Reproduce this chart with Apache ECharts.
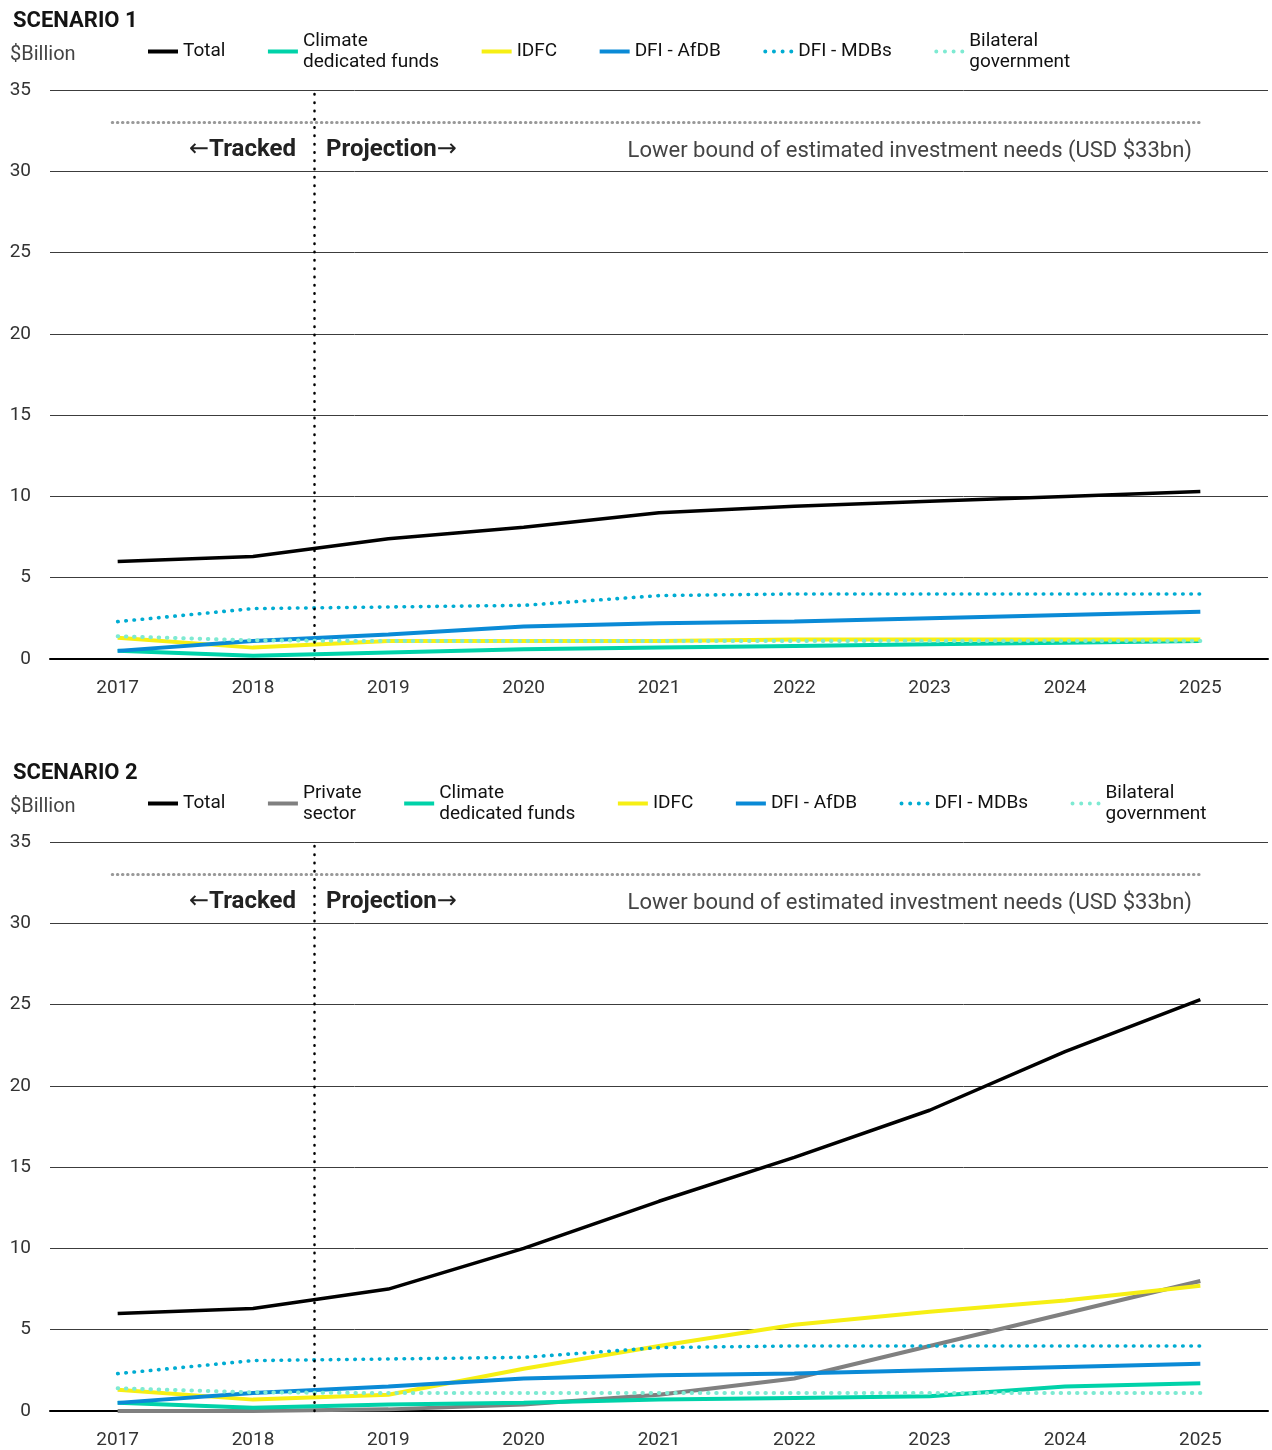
<!DOCTYPE html>
<html>
<head>
<meta charset="utf-8">
<title>Climate finance scenarios</title>
<script src="https://cdn.jsdelivr.net/npm/echarts@6/dist/echarts.min.js"></script>
<style>
  html, body { margin: 0; padding: 0; background: #fff; }
  #c1 { position: absolute; left: 0; top: 0; width: 1272px; height: 752px; }
  #c2 { position: absolute; left: 0; top: 752px; width: 1272px; height: 698px; }
</style>
</head>
<body>
<div id="c1"></div>
<div id="c2"></div>
<script>
// Years on the x axis
const years = ['2017', '2018', '2019', '2020', '2021', '2022', '2023', '2024', '2025'];
const yTicks = [0, 5, 10, 15, 20, 25, 30, 35];

// Investment needs threshold (USD bn) and tracked/projection split (category index)
const needsLowerBound = 33;
const splitAt = 1.45;

// Scenario 1 ($ billion)
const s1Total     = [6.0, 6.3, 7.4, 8.1, 9.0, 9.4, 9.7, 10.0, 10.3];
const s1Climate   = [0.5, 0.2, 0.4, 0.6, 0.7, 0.8, 0.9, 1.0, 1.1];
const s1Idfc      = [1.3, 0.7, 1.1, 1.1, 1.1, 1.2, 1.2, 1.2, 1.2];
const s1Afdb      = [0.5, 1.1, 1.5, 2.0, 2.2, 2.3, 2.5, 2.7, 2.9];
const s1Mdbs      = [2.3, 3.1, 3.2, 3.3, 3.9, 4.0, 4.0, 4.0, 4.0];
const s1Bilateral = [1.4, 1.15, 1.1, 1.1, 1.1, 1.1, 1.1, 1.1, 1.1];

// Scenario 2 ($ billion)
const s2Total     = [6.0, 6.3, 7.5, 10.0, 12.9, 15.6, 18.5, 22.1, 25.3];
const s2Private   = [0, 0, 0.1, 0.4, 1.0, 2.0, 4.0, 6.0, 8.0];
const s2Climate   = [0.5, 0.2, 0.4, 0.5, 0.7, 0.8, 0.9, 1.5, 1.7];
const s2Idfc      = [1.3, 0.7, 1.0, 2.6, 4.0, 5.3, 6.1, 6.8, 7.7];
const s2Afdb      = [0.5, 1.1, 1.5, 2.0, 2.2, 2.3, 2.5, 2.7, 2.9];
const s2Mdbs      = [2.3, 3.1, 3.2, 3.3, 3.9, 4.0, 4.0, 4.0, 4.0];
const s2Bilateral = [1.4, 1.15, 1.1, 1.1, 1.1, 1.1, 1.1, 1.1, 1.1];

const FONT = 'Roboto, "Noto Sans", sans-serif';

// Visual style per funding source
const styles = {
  'Total':                   { color: '#000000', width: 3.5 },
  'Private sector':          { color: '#808080', width: 4 },
  'Climate dedicated funds': { color: '#00d2a9', width: 4 },
  'IDFC':                    { color: '#f6ef14', width: 4 },
  'DFI - AfDB':              { color: '#0a8ad6', width: 4 },
  'DFI - MDBs':              { color: '#00acd2', width: 3.6, dots: true },
  'Bilateral government':    { color: '#7eead2', width: 4, dots: true }
};

// Legend labels that wrap onto two lines
const legendLabels = {
  'Private sector': 'Private\nsector',
  'Climate dedicated funds': 'Climate\ndedicated funds',
  'Bilateral government': 'Bilateral\ngovernment'
};

// Legend keys: a short bar for solid lines, four dots for dotted lines
const ICON_BAR = 'path://M0,0H30V4H0Z';
const ICON_DOTS = 'path://M0,2a2,2 0 1,0 4,0a2,2 0 1,0 -4,0Z' +
  'M8.67,2a2,2 0 1,0 4,0a2,2 0 1,0 -4,0Z' +
  'M17.33,2a2,2 0 1,0 4,0a2,2 0 1,0 -4,0Z' +
  'M26,2a2,2 0 1,0 4,0a2,2 0 1,0 -4,0Z';

function lineSeries(name, values) {
  const st = styles[name];
  return {
    name: name,
    type: 'line',
    data: values,
    symbol: 'none',
    silent: true,
    z: 3,
    lineStyle: {
      color: st.color,
      width: st.width,
      type: st.dots ? [0.5, 7.7] : 'solid',
      cap: st.dots ? 'round' : 'butt'
    },
    itemStyle: { color: st.color }
  };
}

function legendItem(name) {
  const item = { name: name, icon: styles[name].dots ? ICON_DOTS : ICON_BAR };
  if (legendLabels[name]) item.textStyle = { padding: [21, 0, 0, 0] };
  return item;
}

const arrowRich = { a: { fontFamily: 'DejaVu Sans', fontSize: 24, fontWeight: 'normal', fill: '#222' } };

function buildOption(title, seriesDefs, gridBottom) {
  const series = seriesDefs.map(d => lineSeries(d[0], d[1]));
  // helper series carrying the reference lines on a continuous x axis
  series.push({
    type: 'line',
    xAxisIndex: 1,
    data: [],
    silent: true,
    markLine: {
      silent: true,
      symbol: 'none',
      label: { show: false },
      data: [
        { xAxis: splitAt, lineStyle: { color: '#000', width: 2.5, type: [0.5, 7.8], cap: 'round' } },
        [
          { coord: [-0.04, needsLowerBound], lineStyle: { color: '#999', width: 3, type: [0.5, 4.6], cap: 'round' } },
          { coord: [8.0, needsLowerBound] }
        ]
      ]
    }
  });

  return {
    animation: false,
    textStyle: { fontFamily: FONT },
    title: {
      text: title,
      left: 8,
      top: 5,
      textStyle: { fontFamily: FONT, fontSize: 22, fontWeight: 'bold', color: '#141414' }
    },
    legend: {
      left: 148,
      top: 20,
      padding: 0,
      itemGap: 42.5,
      itemWidth: 30,
      itemHeight: 4,
      selectedMode: false,
      data: seriesDefs.map(d => legendItem(d[0])),
      formatter: n => legendLabels[n] || n,
      textStyle: { fontFamily: FONT, fontSize: 19, color: '#111', lineHeight: 21 }
    },
    grid: { left: 50, right: 4, top: 90, bottom: gridBottom, containLabel: false },
    xAxis: [
      {
        type: 'category',
        data: years,
        boundaryGap: true,
        axisLine: { lineStyle: { color: '#000', width: 2 } },
        axisTick: { show: false },
        axisLabel: { fontFamily: FONT, fontSize: 19, color: '#333', margin: 20 }
      },
      { type: 'value', min: -0.5, max: 8.5, show: false }
    ],
    yAxis: {
      type: 'value',
      min: yTicks[0],
      max: yTicks[yTicks.length - 1],
      interval: 5,
      axisLine: { show: false },
      axisTick: { show: false },
      axisLabel: { fontFamily: FONT, fontSize: 19, color: '#333', margin: 19 },
      splitLine: { lineStyle: { color: '#3c3c3c', width: 1 } }
    },
    graphic: [
      { type: 'text', left: 10, top: 45, style: { text: '$Billion', font: '20px ' + FONT, fill: '#444' } },
      {
        type: 'text', x: 296, y: 150,
        style: {
          text: '{a|\u2190}Tracked', font: 'bold 24px ' + FONT, fill: '#222', align: 'right', verticalAlign: 'middle',
          rich: arrowRich
        }
      },
      {
        type: 'text', x: 326, y: 150,
        style: {
          text: 'Projection{a|\u2192}', font: 'bold 24px ' + FONT, fill: '#222', align: 'left', verticalAlign: 'middle',
          rich: arrowRich
        }
      },
      {
        type: 'text', x: 1192, y: 151,
        style: { text: 'Lower bound of estimated investment needs (USD $33bn)', font: '22px ' + FONT, fill: '#444', align: 'right', verticalAlign: 'middle' }
      }
    ],
    series: series
  };
}

const chart1 = echarts.init(document.getElementById('c1'));
chart1.setOption(buildOption('SCENARIO 1', [
  ['Total', s1Total],
  ['Climate dedicated funds', s1Climate],
  ['IDFC', s1Idfc],
  ['DFI - AfDB', s1Afdb],
  ['DFI - MDBs', s1Mdbs],
  ['Bilateral government', s1Bilateral]
], 93));

const chart2 = echarts.init(document.getElementById('c2'));
chart2.setOption(buildOption('SCENARIO 2', [
  ['Total', s2Total],
  ['Private sector', s2Private],
  ['Climate dedicated funds', s2Climate],
  ['IDFC', s2Idfc],
  ['DFI - AfDB', s2Afdb],
  ['DFI - MDBs', s2Mdbs],
  ['Bilateral government', s2Bilateral]
], 39));
</script>
</body>
</html>
